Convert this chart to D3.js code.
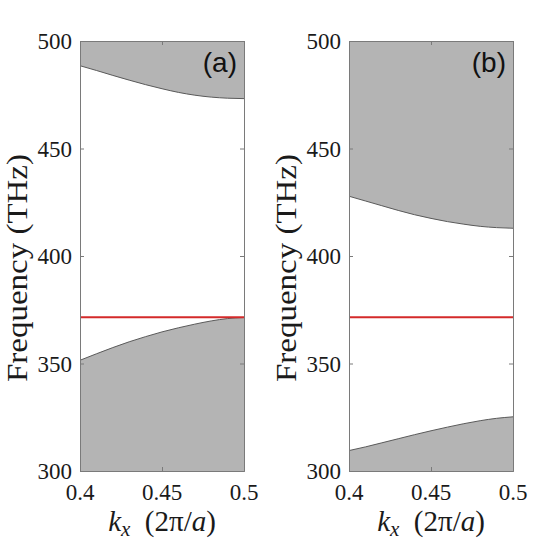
<!DOCTYPE html>
<html>
<head>
<meta charset="utf-8">
<script src="https://cdn.jsdelivr.net/npm/d3@7"></script>
<style>
  html, body { margin: 0; padding: 0; background: #fff; }
  svg { display: block; }
</style>
</head>
<body>
<svg id="chart" width="539" height="540"></svg>
<script>
// ---- data ----
const kx = [0.40, 0.41, 0.42, 0.43, 0.44, 0.45, 0.46, 0.47, 0.48, 0.49, 0.50];
// panel (a)
const aUpper = [488.5, 486.3, 484.0, 481.8, 479.7, 477.8, 476.1, 474.8, 473.9, 473.4, 473.2];
const aLower = [351.5, 354.5, 357.4, 360.1, 362.5, 364.7, 366.6, 368.3, 369.8, 370.9, 371.4];
// panel (b)
const bUpper = [427.8, 425.6, 423.4, 421.2, 419.2, 417.5, 416.0, 414.8, 413.8, 413.2, 412.9];
const bLower = [309.5, 311.2, 313.1, 315.0, 316.9, 318.7, 320.4, 322.0, 323.4, 324.5, 325.2];
const redFreq = 371.5;
const xTicks = [0.4, 0.45, 0.5];
const xTickLabels = ["0.4", "0.45", "0.5"];
const yTicks = [300, 350, 400, 450, 500];
const panelLabels = ["(a)", "(b)"];

const panels = [
  {left: 80, upper: aUpper, lower: aLower, label: panelLabels[0]},
  {left: 349, upper: bUpper, lower: bLower, label: panelLabels[1]}
];

const PW = 164, PTOP = 41, PBOT = 471;
const svg = d3.select("#chart");
const serif = "Liberation Serif";
const sans = "Liberation Sans";

panels.forEach(p => {
  const x = d3.scaleLinear().domain([0.4, 0.5]).range([p.left, p.left + PW]);
  const y = d3.scaleLinear().domain([300, 500]).range([PBOT, PTOP]);
  const g = svg.append("g");

  const upData = kx.map((k, i) => ({k, f: p.upper[i]}));
  const loData = kx.map((k, i) => ({k, f: p.lower[i]}));

  // upper band
  g.append("path").datum(upData)
    .attr("fill", "#b4b4b4")
    .attr("d", d3.area().x(d => x(d.k)).y0(y(500)).y1(d => y(d.f)).curve(d3.curveMonotoneX));
  g.append("path").datum(upData)
    .attr("fill", "none").attr("stroke", "#5a5a5a").attr("stroke-width", 1)
    .attr("d", d3.line().x(d => x(d.k)).y(d => y(d.f)).curve(d3.curveMonotoneX));

  // lower band
  g.append("path").datum(loData)
    .attr("fill", "#b4b4b4")
    .attr("d", d3.area().x(d => x(d.k)).y0(y(300)).y1(d => y(d.f)).curve(d3.curveMonotoneX));
  g.append("path").datum(loData)
    .attr("fill", "none").attr("stroke", "#5a5a5a").attr("stroke-width", 1)
    .attr("d", d3.line().x(d => x(d.k)).y(d => y(d.f)).curve(d3.curveMonotoneX));

  // red line
  g.append("line")
    .attr("x1", x(0.4)).attr("x2", x(0.5))
    .attr("y1", y(redFreq)).attr("y2", y(redFreq))
    .attr("stroke", "#d42a2a").attr("stroke-width", 2);

  // axes (box with inward ticks)
  const tickLen = 4;
  const axL = d3.axisRight(y).tickValues(yTicks).tickSize(tickLen).tickFormat("");
  const axR = d3.axisLeft(y).tickValues(yTicks).tickSize(tickLen).tickFormat("");
  const axB = d3.axisTop(x).tickValues(xTicks).tickSize(tickLen).tickFormat("");
  const axT = d3.axisBottom(x).tickValues(xTicks).tickSize(tickLen).tickFormat("");
  [[axL, `translate(${x(0.4)},0)`], [axR, `translate(${x(0.5)},0)`],
   [axB, `translate(0,${y(300)})`], [axT, `translate(0,${y(500)})`]].forEach(([ax, tr]) => {
    const a = g.append("g").attr("transform", tr).call(ax);
    a.selectAll("path").attr("stroke", "#7a7a7a").attr("stroke-width", 1);
    a.selectAll("line").attr("stroke", "#7a7a7a").attr("stroke-width", 1);
  });

  // y tick labels
  g.selectAll(".ytl").data(yTicks).enter().append("text")
    .attr("x", x(0.4) - 8).attr("y", d => y(d) + 8)
    .attr("text-anchor", "end")
    .attr("font-family", serif).attr("font-size", 23).attr("fill", "#1a1a1a")
    .text(d => d);

  // x tick labels
  g.selectAll(".xtl").data(xTicks).enter().append("text")
    .attr("x", d => x(d)).attr("y", y(300) + 29)
    .attr("text-anchor", "middle")
    .attr("font-family", serif).attr("font-size", 23).attr("fill", "#1a1a1a")
    .text((d, i) => xTickLabels[i]);

  // x label
  const xl = g.append("text")
    .attr("x", (x(0.4) + x(0.5)) / 2).attr("y", 531)
    .attr("text-anchor", "middle")
    .attr("font-family", serif).attr("font-size", 29).attr("fill", "#1a1a1a");
  xl.append("tspan").attr("font-style", "italic").text("k");
  xl.append("tspan").attr("font-style", "italic").attr("font-size", 21).attr("dy", 5).text("x");
  xl.append("tspan").attr("dy", -5).text("\u2002(2\u03c0/");
  xl.append("tspan").attr("font-style", "italic").text("a");
  xl.append("tspan").text(")");

  // y label
  g.append("text")
    .attr("transform", `translate(${p.left - 53},268) rotate(-90)`)
    .attr("text-anchor", "middle")
    .attr("font-family", serif).attr("font-size", 30).attr("fill", "#1a1a1a")
    .attr("textLength", 228).attr("lengthAdjust", "spacingAndGlyphs")
    .text("Frequency (THz)");

  // panel label
  g.append("text")
    .attr("x", x(0.5) - 7).attr("y", 72)
    .attr("text-anchor", "end")
    .attr("font-family", sans).attr("font-size", 28).attr("fill", "#111")
    .text(p.label);
});
</script>
</body>
</html>
